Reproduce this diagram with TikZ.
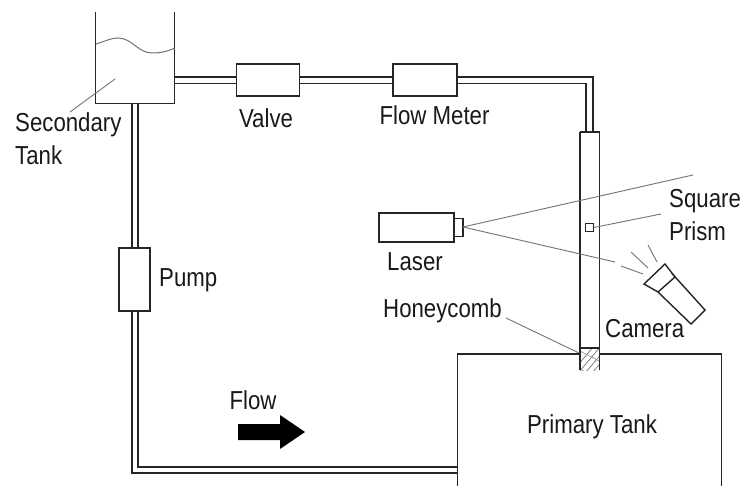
\documentclass[tikz,border=0pt]{standalone}
\usepackage{fontspec}
\setmainfont[FakeStretch=0.855]{Liberation Sans}
\usetikzlibrary{patterns}
\tikzset{
  wall/.style={draw=black!85,line width=1.8pt},
  pipe/.style={draw=black!85,line width=1.6pt},
  thin wall/.style={draw=black!85,line width=1.4pt},
  leader/.style={draw=black!55,line width=0.9pt},
  device/.style={draw=black!85,line width=1.7pt,fill=white,inner sep=0pt,minimum width=#1},
  device/.default=60pt,
  lbl/.style={font=\fontsize{26}{33}\selectfont,text=black!90,inner sep=0pt,align=left}
}
\begin{document}
\begin{tikzpicture}[x=1pt,y=-1pt]
\useasboundingbox (0,0) rectangle (741,486);
\fill[white] (0,0) rectangle (741,486);
% secondary tank
\coordinate (tl) at (95.5,12); \coordinate (tbl) at (95.5,103.5);
\coordinate (tbr) at (174.5,103.5); \coordinate (tr) at (174.5,12);
\draw[wall] (tl) -- (tbl) -- (tbr) -- (tr);
\draw[leader,line width=1pt] (96,44) .. controls (106,41) and (111,38) .. (118,38) .. controls (132,38) and (138,53) .. (152,53) .. controls (162,53) and (168,51) .. (175,48);
\coordinate (tka) at (115,79); \coordinate (tkb) at (70,112);
\draw[leader] (tka) -- (tkb);
% devices
\node[device=63pt,minimum height=32pt] (valve) at (268,80) {};
\node[device=64pt,minimum height=32pt] (meter) at (425,80) {};
\node[device=31pt,minimum height=63pt] (pump) at (134.5,279.5) {};
% test section
\coordinate (sa) at (580,132); \coordinate (sb) at (599.5,132);
\coordinate (sc) at (580,370); \coordinate (sd) at (599.5,370);
% top pipe
\draw[pipe] (174.5,77) -- (valve.west |- 0,77);
\draw[pipe] (174.5,83.5) -- (valve.west |- 0,83.5);
\draw[pipe] (valve.east |- 0,77) -- (meter.west |- 0,77);
\draw[pipe] (valve.east |- 0,83.5) -- (meter.west |- 0,83.5);
\draw[pipe] (meter.east |- 0,77) -- (593,77) -- (593,132);
\draw[pipe] (meter.east |- 0,83.5) -- (586,83.5) -- (586,132);
% left pipe
\draw[pipe] (132,103.5) -- (pump.north -| 132,0);
\draw[pipe] (138,103.5) -- (pump.north -| 138,0);
\coordinate (ptl) at (457.5,467); \coordinate (pbl) at (457.5,473);
\draw[pipe] (pump.south -| 138,0) -- (138,467) -- (ptl);
\draw[pipe] (pump.south -| 132,0) -- (132,473) -- (pbl);
% primary tank
\draw[wall] (457.5,486) -- (457.5,354) -- (580,354);
\draw[wall] (599.5,354) -- (721.5,354) -- (721.5,486);
% honeycomb
\begin{scope}
\clip (580,348) rectangle (599.5,370);
\foreach \d in {0,7,...,49} \draw[draw=black!55,line width=0.7pt] (572+\d,372) -- (594+\d,346);
\foreach \d in {0,18} \draw[draw=black!45,line width=0.6pt] (578,350+\d) -- (601,362+\d);
\end{scope}
\draw[thin wall] (580,348) -- (599.5,348);
\draw[thin wall] (sa) -- (sb);
\draw[wall] (sa) -- (sc);
\draw[wall] (sb) -- (sd);
% laser
\node[device=75pt,minimum height=29pt] (laser) at (416.5,227.5) {};
\node[draw=black!85,line width=1.5pt,fill=white,inner sep=0pt,minimum width=8.5pt,minimum height=18pt] (nozzle) at (458.5,227.5) {};
\coordinate (bo) at (463,227);
\coordinate (bu) at (693,175);
\coordinate (bl1) at (615,262); \coordinate (bl2) at (621,266); \coordinate (bl3) at (643,274);
\draw[leader] (bo) -- (bu);
\draw[leader] (bo) -- (bl1);
\draw[leader] (bl2) -- (bl3);
% prism
\node[draw=black!85,line width=1.3pt,inner sep=0pt,minimum size=7.5pt,fill=white] (prism) at (589.5,227.5) {};
\coordinate (pl) at (661,214);
\draw[leader] (prism.east) -- (pl);
% camera
\draw[thin wall] (644,284) -- (665,264) -- (675,277) -- (658,292) -- cycle;
\draw[thin wall] (672,273.5) -- (705,310) -- (691,324) -- (658,292);
\draw[leader] (631,252) -- (648,268);
\draw[leader] (648,245) -- (657,262);
% honeycomb leader
\coordinate (hla) at (506,318); \coordinate (hlb) at (579,353);
\draw[leader] (hla) -- (hlb);
% flow arrow
\fill[black] (238,424) -- (280,424) -- (280,415) -- (305,432) -- (280,449) -- (280,440) -- (238,440) -- cycle;
% labels
\node[lbl,anchor=base west] (l1) at (15,165) {Secondary\\Tank};
\node[lbl,anchor=base] (l2) at (266,128) {Valve};
\node[lbl,anchor=base] (l3) at (434.5,125) {Flow Meter};
\node[lbl,anchor=base west] (l4) at (159,287) {Pump};
\node[lbl,anchor=base west] (l5) at (387,270) {Laser};
\node[lbl,anchor=base west] (l6) at (383,317) {Honeycomb};
\node[lbl,anchor=base west] (l7) at (605,337) {Camera};
\node[lbl,anchor=base west] (l8) at (669,241) {Square\\Prism};
\node[lbl,anchor=base] (l9) at (253,409) {Flow};
\node[lbl,anchor=base] (l10) at (592,433) {Primary Tank};
\end{tikzpicture}
\end{document}
